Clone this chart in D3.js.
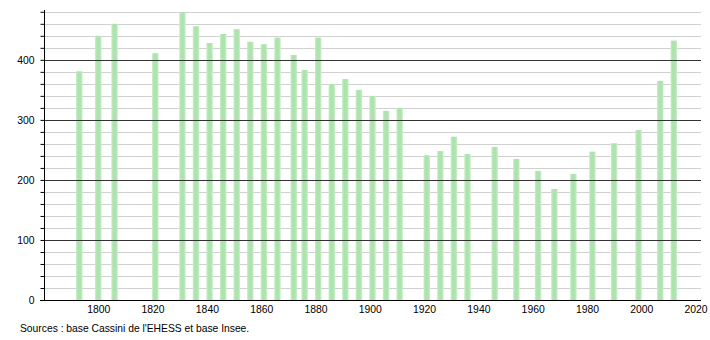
<!DOCTYPE html>
<html><head><meta charset="utf-8">
<script src="https://cdn.jsdelivr.net/npm/d3@7"></script>
<style>body{margin:0;background:#fff}svg{display:block}text{font-family:"Liberation Sans",Arial,sans-serif}</style>
</head><body>
<svg id="c" width="710" height="340"></svg>
<script>
const years = [1793,1800,1806,1821,1831,1836,1841,1846,1851,1856,1861,1866,1872,1876,1881,1886,1891,1896,1901,1906,1911,1921,1926,1931,1936,1946,1954,1962,1968,1975,1982,1990,1999,2007,2012];
const population = [381,440,460,411,479,456,428,443,451,430,426,437,408,383,437,360,368,350,340,315,320,241,248,272,243,255,235,215,185,210,247,261,283,365,432];
const xTicks = [1800,1820,1840,1860,1880,1900,1920,1940,1960,1980,2000,2020];
const yMajor = [0,100,200,300,400];
const sourceText = "Sources : base Cassini de l'EHESS et base Insee.";

const svg = d3.select("#c");
const x = d3.scaleLinear().domain([1780, 2022]).range([44, 701]);
const y = d3.scaleLinear().domain([0, 483]).range([300, 10]);

const defs = svg.append("defs");
const g = defs.append("linearGradient").attr("id","bg").attr("x1","0").attr("x2","1").attr("y1","0").attr("y2","0");
g.append("stop").attr("offset","0").attr("stop-color","#c8eec8");
g.append("stop").attr("offset","0.3").attr("stop-color","#ade3ad");
g.append("stop").attr("offset","0.7").attr("stop-color","#ade3ad");
g.append("stop").attr("offset","1").attr("stop-color","#cdf0cd");

// minor gridlines
const minor = d3.range(20, 483, 20).filter(v => v % 100 !== 0);
svg.append("g").selectAll("line").data(minor).join("line")
  .attr("x1", 44).attr("x2", 701).attr("y1", d => Math.round(y(d))+0.5).attr("y2", d => Math.round(y(d))+0.5)
  .attr("stroke", "#d0d0d0").attr("stroke-width", 1);

// bars
const bw = 6.5;
svg.append("g").selectAll("rect").data(years).join("rect")
  .attr("x", (d) => x(d) - bw/2).attr("width", bw)
  .attr("y", (d,i) => y(population[i])).attr("height", (d,i) => y(0) - y(population[i]))
  .attr("fill", "url(#bg)");

// major gridlines
svg.append("g").selectAll("line").data(yMajor.filter(v=>v>0)).join("line")
  .attr("x1", 44).attr("x2", 701).attr("y1", d => Math.round(y(d))+0.5).attr("y2", d => Math.round(y(d))+0.5)
  .attr("stroke", "#333333").attr("stroke-width", 1);

// y axis
const yAxis = d3.axisLeft(y).tickValues(d3.range(0, 483, 20)).tickSize(4)
  .tickFormat(d => d % 100 === 0 ? d : "");
const ya = svg.append("g").attr("transform","translate(44.5,0)").call(yAxis);
ya.select(".domain").attr("d", `M0,${y(483)}V${y(0)}`).attr("stroke","#000");
ya.selectAll(".tick line").attr("stroke","#000");
ya.selectAll(".tick text").attr("font-size", 10.4).attr("fill","#000").attr("x", -10);

// x axis
const xAxis = d3.axisBottom(x).tickValues(xTicks).tickSize(0).tickFormat(d3.format("d"));
const xa = svg.append("g").attr("transform","translate(0,300.5)").call(xAxis);
xa.select(".domain").attr("d", `M40,0H701`).attr("stroke","#000");
xa.selectAll(".tick text").attr("font-size", 10.4).attr("fill","#000").attr("dy", "0.71em").attr("y", 5);

svg.append("text").attr("x", 20).attr("y", 332).attr("font-size", 10.3).attr("fill", "#000").text(sourceText);
</script>
</body></html>
